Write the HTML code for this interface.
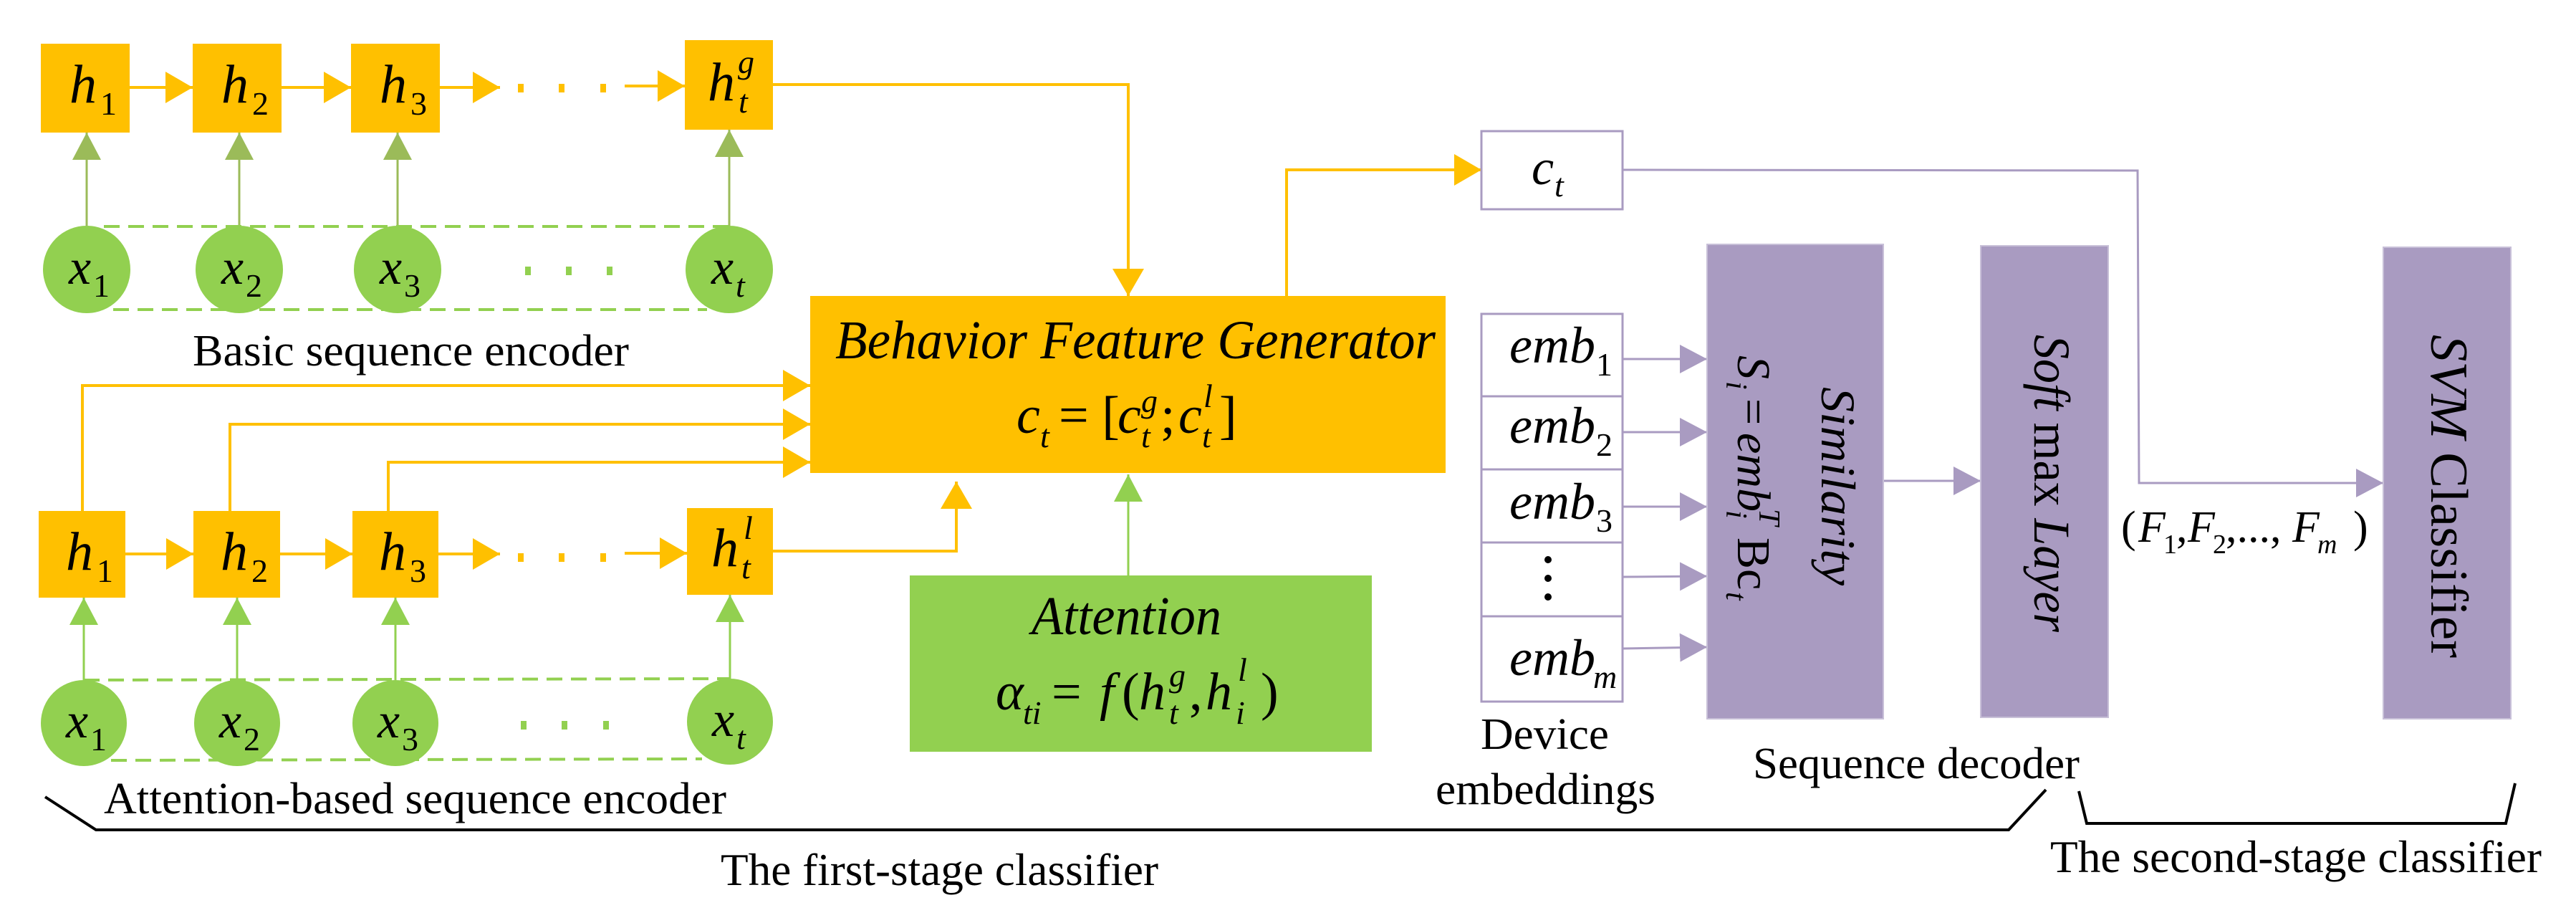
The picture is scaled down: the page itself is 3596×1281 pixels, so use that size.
<!DOCTYPE html>
<html><head><meta charset="utf-8"><style>
html,body{margin:0;padding:0;background:#fff}
svg{display:block}
svg text{font-family:"Liberation Serif","DejaVu Serif","Times New Roman",serif;fill:#000}
.i{font-style:italic}
</style></head><body>
<svg width="3596" height="1281" viewBox="0 0 3596 1281" xmlns="http://www.w3.org/2000/svg" font-family="'Liberation Serif','DejaVu Serif',serif">
<defs>
<marker id="ay" markerWidth="40" markerHeight="44" refX="38" refY="22" orient="auto" markerUnits="userSpaceOnUse"><path d="M0,0 L38,22 L0,44 Z" fill="#FFC000"/></marker>
<marker id="ag" markerWidth="40" markerHeight="40" refX="38" refY="20" orient="auto" markerUnits="userSpaceOnUse"><path d="M0,0 L38,20 L0,40 Z" fill="#9BBB59"/></marker>
<marker id="ag2" markerWidth="40" markerHeight="40" refX="38" refY="20" orient="auto" markerUnits="userSpaceOnUse"><path d="M0,0 L38,20 L0,40 Z" fill="#92D050"/></marker>
<marker id="ap" markerWidth="40" markerHeight="40" refX="38" refY="20" orient="auto" markerUnits="userSpaceOnUse"><path d="M0,0 L38,20 L0,40 Z" fill="#A99BC1"/></marker>
</defs>

<!-- TOP ROW -->
<g fill="#FFC000">
<rect x="57" y="61" width="124" height="124"/>
<rect x="269" y="61" width="124" height="124"/>
<rect x="490" y="61" width="124" height="124"/>
<rect x="956" y="56" width="123" height="125"/>
</g>
<g stroke="#FFC000" stroke-width="4" fill="none">
<line x1="181" y1="122" x2="269" y2="122" marker-end="url(#ay)"/>
<line x1="393" y1="122" x2="490" y2="122" marker-end="url(#ay)"/>
<line x1="614" y1="122" x2="698" y2="122" marker-end="url(#ay)"/>
<line x1="872" y1="120" x2="956" y2="120" marker-end="url(#ay)"/>
</g>
<g fill="#FFC000"><rect x="723" y="117" width="8" height="12"/><rect x="780" y="117" width="8" height="12"/><rect x="838" y="117" width="8" height="12"/></g>
<g stroke="#9BBB59" stroke-width="3">
<line x1="121" y1="315" x2="121" y2="185" marker-end="url(#ag)"/>
<line x1="334" y1="315" x2="334" y2="185" marker-end="url(#ag)"/>
<line x1="555" y1="315" x2="555" y2="185" marker-end="url(#ag)"/>
<line x1="1018" y1="315" x2="1018" y2="181" marker-end="url(#ag)"/>
</g>
<g stroke="#92D050" stroke-width="4" stroke-dasharray="22 12">
<line x1="145" y1="316" x2="1018" y2="316"/>
<line x1="158" y1="432" x2="987" y2="432"/>
</g>
<g fill="#92D050">
<circle cx="121" cy="376" r="61"/><circle cx="334" cy="376" r="61"/><circle cx="555" cy="376" r="61"/><circle cx="1018" cy="376" r="61"/>
<rect x="733" y="372" width="8" height="12"/><rect x="790" y="372" width="8" height="12"/><rect x="847" y="372" width="8" height="12"/>
</g>
<g font-size="76">
<text class="i" x="97" y="143">h</text><text x="140" y="160" font-size="46">1</text>
<text class="i" x="309" y="143">h</text><text x="352" y="160" font-size="46">2</text>
<text class="i" x="530" y="143">h</text><text x="573" y="160" font-size="46">3</text>
<text class="i" x="988" y="140">h</text><text class="i" x="1031" y="157" font-size="46">t</text><text class="i" x="1030" y="102" font-size="46">g</text>
</g>
<g font-size="70">
<text class="i" x="96" y="396">x</text><text x="130" y="414" font-size="46">1</text>
<text class="i" x="309" y="396">x</text><text x="343" y="414" font-size="46">2</text>
<text class="i" x="530" y="396">x</text><text x="564" y="414" font-size="46">3</text>
<text class="i" x="993" y="396">x</text><text class="i" x="1027" y="414" font-size="46">t</text>
</g>
<text x="269" y="510" font-size="62" textLength="609" lengthAdjust="spacingAndGlyphs">Basic sequence encoder</text>

<!-- BOTTOM ROW -->
<g fill="#FFC000">
<rect x="54" y="713" width="121" height="121"/>
<rect x="270" y="713" width="121" height="121"/>
<rect x="492" y="713" width="120" height="121"/>
<rect x="959" y="709" width="120" height="121"/>
</g>
<g stroke="#FFC000" stroke-width="4" fill="none">
<line x1="175" y1="773" x2="270" y2="773" marker-end="url(#ay)"/>
<line x1="391" y1="773" x2="492" y2="773" marker-end="url(#ay)"/>
<line x1="612" y1="773" x2="698" y2="773" marker-end="url(#ay)"/>
<line x1="872" y1="772" x2="959" y2="772" marker-end="url(#ay)"/>
<polyline points="115,713 115,538 1131,538" marker-end="url(#ay)"/>
<polyline points="321,713 321,592 1131,592" marker-end="url(#ay)"/>
<polyline points="542,713 542,645 1131,645" marker-end="url(#ay)"/>
<polyline points="1079,118 1575,118 1575,413" marker-end="url(#ay)"/>
<polyline points="1079,769 1335,769 1335,672" marker-end="url(#ay)"/>
<polyline points="1796,413 1796,237 2068,237" marker-end="url(#ay)"/>
</g>
<g fill="#FFC000"><rect x="723" y="772" width="8" height="12"/><rect x="780" y="772" width="8" height="12"/><rect x="838" y="772" width="8" height="12"/></g>
<g stroke="#92D050" stroke-width="3">
<line x1="117" y1="949" x2="117" y2="834" marker-end="url(#ag2)"/>
<line x1="331" y1="949" x2="331" y2="834" marker-end="url(#ag2)"/>
<line x1="552" y1="949" x2="552" y2="834" marker-end="url(#ag2)"/>
<line x1="1019" y1="949" x2="1019" y2="830" marker-end="url(#ag2)"/>
<line x1="1575" y1="803" x2="1575" y2="662" marker-end="url(#ag2)"/>
</g>
<g stroke="#92D050" stroke-width="4" stroke-dasharray="22 12">
<line x1="117" y1="949" x2="1019" y2="947"/>
<line x1="155" y1="1061" x2="980" y2="1059"/>
</g>
<g fill="#92D050">
<circle cx="117" cy="1009" r="60"/><circle cx="331" cy="1009" r="60"/><circle cx="552" cy="1009" r="60"/><circle cx="1019" cy="1007" r="60"/>
<rect x="727" y="1006" width="8" height="12"/><rect x="784" y="1006" width="8" height="12"/><rect x="842" y="1006" width="8" height="12"/>
</g>
<g font-size="76">
<text class="i" x="92" y="795">h</text><text x="135" y="812" font-size="46">1</text>
<text class="i" x="308" y="795">h</text><text x="351" y="812" font-size="46">2</text>
<text class="i" x="529" y="795">h</text><text x="572" y="812" font-size="46">3</text>
<text class="i" x="993" y="790">h</text><text class="i" x="1035" y="807" font-size="46">t</text><text class="i" x="1038" y="752" font-size="46">l</text>
</g>
<g font-size="70">
<text class="i" x="92" y="1029">x</text><text x="126" y="1047" font-size="46">1</text>
<text class="i" x="306" y="1029">x</text><text x="340" y="1047" font-size="46">2</text>
<text class="i" x="527" y="1029">x</text><text x="561" y="1047" font-size="46">3</text>
<text class="i" x="994" y="1027">x</text><text class="i" x="1028" y="1045" font-size="46">t</text>
</g>
<text x="145" y="1135" font-size="62" textLength="869" lengthAdjust="spacingAndGlyphs">Attention-based sequence encoder</text>

<!-- BFG -->
<rect x="1131" y="413" width="887" height="247" fill="#FFC000"/>
<text class="i" x="1166" y="500" font-size="76" textLength="838" lengthAdjust="spacingAndGlyphs">Behavior Feature Generator</text>
<g font-size="74">
<text class="i" x="1419" y="604">c</text><text class="i" x="1452" y="624" font-size="46">t</text>
<text x="1478" y="604">= [</text>
<text class="i" x="1560" y="604">c</text><text class="i" x="1593" y="624" font-size="46">t</text><text class="i" x="1593" y="575" font-size="46">g</text>
<text x="1620" y="604">;</text>
<text class="i" x="1645" y="604">c</text><text class="i" x="1678" y="624" font-size="46">t</text><text class="i" x="1680" y="568" font-size="46">l</text>
<text x="1702" y="604">]</text>
</g>

<!-- Attention -->
<rect x="1270" y="803" width="645" height="246" fill="#92D050"/>
<text class="i" x="1440" y="885" font-size="76" textLength="265" lengthAdjust="spacingAndGlyphs">Attention</text>
<g font-size="74">
<text class="i" x="1390" y="990">α</text><text class="i" x="1428" y="1010" font-size="46">ti</text>
<text x="1468" y="990">=</text>
<text class="i" x="1535" y="990">f</text><text x="1566" y="990">(</text>
<text class="i" x="1590" y="990">h</text><text class="i" x="1632" y="1010" font-size="46">t</text><text class="i" x="1632" y="958" font-size="46">g</text>
<text x="1660" y="990">,</text>
<text class="i" x="1683" y="990">h</text><text class="i" x="1725" y="1010" font-size="46">i</text><text class="i" x="1728" y="950" font-size="46">l</text>
<text x="1760" y="990">)</text>
</g>

<!-- c_t box -->
<rect x="2068" y="183" width="197" height="109" fill="#fff" stroke="#A99BC1" stroke-width="3"/>
<text class="i" x="2138" y="257" font-size="70">c</text><text class="i" x="2170" y="274" font-size="46">t</text>

<!-- emb boxes -->
<g fill="#fff" stroke="#A99BC1" stroke-width="3">
<rect x="2068" y="438" width="197" height="115"/>
<rect x="2068" y="553" width="197" height="102"/>
<rect x="2068" y="655" width="197" height="102"/>
<rect x="2068" y="757" width="197" height="103"/>
<rect x="2068" y="860" width="197" height="119"/>
</g>
<g font-size="72">
<text class="i" x="2107" y="506" textLength="120" lengthAdjust="spacingAndGlyphs">emb</text><text x="2228" y="524" font-size="46">1</text>
<text class="i" x="2107" y="618" textLength="120" lengthAdjust="spacingAndGlyphs">emb</text><text x="2228" y="636" font-size="46">2</text>
<text class="i" x="2107" y="724" textLength="120" lengthAdjust="spacingAndGlyphs">emb</text><text x="2228" y="742" font-size="46">3</text>
<text class="i" x="2107" y="942" textLength="120" lengthAdjust="spacingAndGlyphs">emb</text><text class="i" x="2224" y="960" font-size="46">m</text>
</g>
<g fill="#000"><circle cx="2161" cy="781" r="5"/><circle cx="2161" cy="807" r="5"/><circle cx="2161" cy="833" r="5"/></g>

<!-- purple connectors -->
<g stroke="#A99BC1" stroke-width="3" fill="none">
<line x1="2265" y1="501" x2="2383" y2="501" marker-end="url(#ap)"/>
<line x1="2265" y1="603" x2="2383" y2="603" marker-end="url(#ap)"/>
<line x1="2265" y1="707" x2="2383" y2="707" marker-end="url(#ap)"/>
<line x1="2265" y1="805" x2="2383" y2="804" marker-end="url(#ap)"/>
<line x1="2265" y1="905" x2="2383" y2="903" marker-end="url(#ap)"/>
<line x1="2629" y1="671" x2="2765" y2="671" marker-end="url(#ap)"/>
<polyline points="2265,237 2984,238 2986,674 3327,674" marker-end="url(#ap)"/>
</g>

<!-- purple boxes -->
<g fill="#A99BC1" stroke="#C8C0D8" stroke-width="2">
<rect x="2383" y="341" width="246" height="662"/>
<rect x="2765" y="343" width="178" height="658"/>
<rect x="3327" y="345" width="178" height="658"/>
</g>
<text class="i" transform="translate(2543,540) rotate(90)" font-size="68" textLength="277" lengthAdjust="spacingAndGlyphs">Similarity</text>
<g transform="translate(2426,496) rotate(90)" font-size="66">
<text class="i" x="0" y="0">S</text><text class="i" x="36" y="16" font-size="42">i</text>
<text x="60" y="0">=</text>
<text class="i" x="108" y="0">emb</text><text class="i" x="216" y="16" font-size="42">i</text><text class="i" x="214" y="-30" font-size="42">T</text>
<text x="254" y="0">Bc</text><text class="i" x="330" y="16" font-size="42">t</text>
</g>
<text transform="translate(2840,467) rotate(90)" font-size="72" textLength="415" lengthAdjust="spacingAndGlyphs"><tspan class="i">Soft</tspan> max <tspan class="i">Layer</tspan></text>
<text transform="translate(3394,467) rotate(90)" font-size="74" textLength="451" lengthAdjust="spacingAndGlyphs"><tspan class="i">SVM</tspan> Classifier</text>

<g font-size="62">
<text x="2961" y="756">(</text>
<text class="i" x="2985" y="756">F</text><text x="3020" y="772" font-size="38">1</text>
<text x="3038" y="756">,</text>
<text class="i" x="3054" y="756">F</text><text x="3089" y="772" font-size="38">2</text>
<text x="3107" y="756">,...,</text>
<text class="i" x="3200" y="756">F</text><text class="i" x="3235" y="772" font-size="38">m</text>
<text x="3285" y="756">)</text>
</g>

<!-- bottom labels -->
<text x="2067" y="1045" font-size="62" textLength="179" lengthAdjust="spacingAndGlyphs">Device</text>
<text x="2004" y="1122" font-size="62" textLength="307" lengthAdjust="spacingAndGlyphs">embeddings</text>
<text x="2447" y="1086" font-size="62" textLength="456" lengthAdjust="spacingAndGlyphs">Sequence decoder</text>
<text x="1006" y="1235" font-size="64" textLength="611" lengthAdjust="spacingAndGlyphs">The first-stage classifier</text>
<text x="2862" y="1217" font-size="64" textLength="686" lengthAdjust="spacingAndGlyphs">The second-stage classifier</text>

<g stroke="#000" stroke-width="4" fill="none">
<polyline points="63,1112 134,1158 2804,1158 2856,1102"/>
<polyline points="2902,1104 2913,1149 3498,1149 3511,1093"/>
</g>
</svg>
</body></html>
